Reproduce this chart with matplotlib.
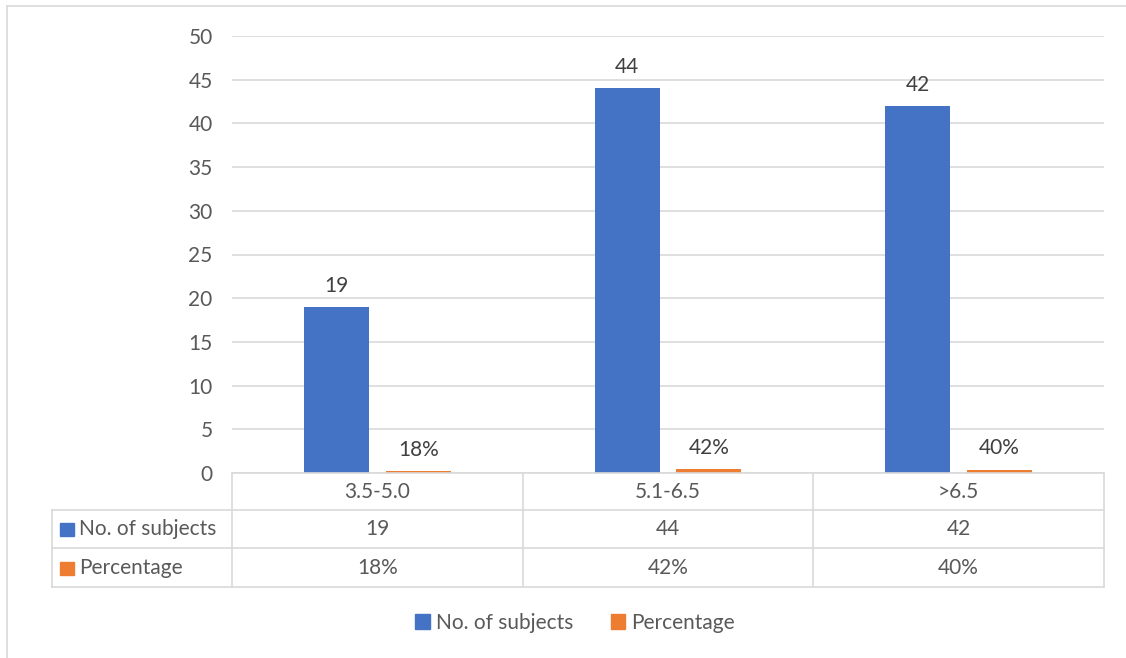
import matplotlib.pyplot as plt
import numpy as np

# Data
categories = ["3.5-5.0", "5.1-6.5", ">6.5"]
subjects = [19, 44, 42]
percent = [0.18, 0.42, 0.40]
percent_labels = ["18%", "42%", "40%"]
series_names = ["No. of subjects", "Percentage"]

BLUE = "#4472C4"
ORANGE = "#ED7D31"
GRID = "#d9d9d9"
TXT = "#595959"

plt.rcParams["font.family"] = ["Lato", "DejaVu Sans"]
plt.rcParams["font.size"] = 15

W, H = 1126, 658
fig = plt.figure(figsize=[W / 100, H / 100], dpi=100)

# outer chart border (left and top visible)
fig.add_artist(plt.Line2D([7 / W, 7 / W], [0, 1 - 6 / H], color=GRID, lw=1.2))
fig.add_artist(plt.Line2D([7 / W, 1], [1 - 6 / H, 1 - 6 / H], color=GRID, lw=1.2))

# plot area
px0, px1, py0, py1 = 232, 1104, 36, 473
ax = fig.add_axes([px0 / W, 1 - py1 / H, (px1 - px0) / W, (py1 - py0) / H])
x = np.arange(len(categories))
bw = 65 / 290.67
off = 41 / 290.67
b1 = ax.bar(x - off, subjects, bw, color=BLUE, zorder=3)
b2 = ax.bar(x + off, percent, bw, color=ORANGE, zorder=3)
for rect, v in zip(b1, subjects):
    ax.annotate(str(v), (rect.get_x() + rect.get_width() / 2, v), xytext=(0, 8),
                textcoords="offset points", ha="center", va="bottom", color="#404040")
for rect, v, s in zip(b2, percent, percent_labels):
    ax.annotate(s, (rect.get_x() + rect.get_width() / 2, v), xytext=(0, 8),
                textcoords="offset points", ha="center", va="bottom", color="#404040")

ax.set_xlim(-0.5, 2.5)
ax.set_ylim(0, 50)
ax.set_yticks(range(0, 51, 5))
ax.set_xticks([])
ax.yaxis.grid(True, color=GRID, lw=1.2, zorder=0)
ax.set_axisbelow(True)
for sp in ax.spines.values():
    sp.set_visible(False)
ax.tick_params(axis="y", length=0, pad=14, labelcolor=TXT)

# data table under the plot
tx0, ty1 = 52, 587
tab = fig.add_axes([tx0 / W, 1 - ty1 / H, (px1 - tx0) / W, (ty1 - py1) / H])
unit = (px1 - px0) / 3
left = -0.5 - (px0 - tx0) / unit
tab.set_xlim(left, 2.5)
tab.set_ylim(114, 0)
tab.axis("off")
rows = [0, 37, 75, 114]
lk = dict(color=GRID, lw=1.2, clip_on=False)
tab.plot([-0.5, 2.5], [0, 0], **lk)
for r in rows[1:]:
    tab.plot([left, 2.5], [r, r], **lk)
for c in [-0.5, 0.5, 1.5, 2.5]:
    tab.plot([c, c], [0, 114], **lk)
tab.plot([left, left], [37, 114], **lk)

for i, c in enumerate(categories):
    tab.text(i, 18.5, c, ha="center", va="center", color=TXT)
for i in range(3):
    tab.text(i, 56, str(subjects[i]), ha="center", va="center", color=TXT)
    tab.text(i, 94.5, percent_labels[i], ha="center", va="center", color=TXT)

for yc, name, col in [(56, series_names[0], BLUE), (94.5, series_names[1], ORANGE)]:
    tab.add_patch(plt.Rectangle((left + 8 / unit, yc - 6), 14 / unit, 13, color=col, clip_on=False))
    tab.text(left + 27 / unit, yc, name, ha="left", va="center", color=TXT)

# legend
handles = [plt.Rectangle((0, 0), 1, 1, color=BLUE), plt.Rectangle((0, 0), 1, 1, color=ORANGE)]
fig.legend(handles, series_names, loc="center", bbox_to_anchor=(575 / W, 1 - 623 / H),
           ncol=2, frameon=False, handlelength=0.7, handleheight=0.7, handletextpad=0.3,
           columnspacing=1.8, labelcolor=TXT)

fig.savefig("out.png", dpi=100)
